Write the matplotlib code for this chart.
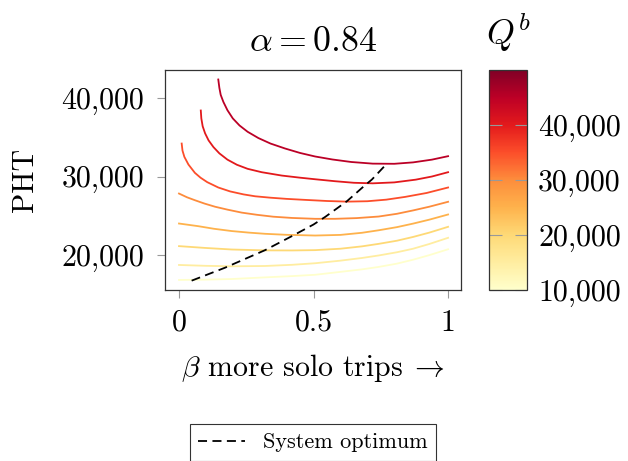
import matplotlib
matplotlib.use("Agg")
import matplotlib.pyplot as plt
from matplotlib.ticker import FuncFormatter
from matplotlib.colors import Normalize
from matplotlib.cm import ScalarMappable

# Q^b value of each curve
Q_VALUES = [10000, 15000, 20000, 25000, 30000, 35000, 40000, 45000]

beta_q10 = [0.0, 0.1, 0.196, 0.32, 0.42, 0.506, 0.6, 0.68, 0.742, 0.81, 0.87, 0.93, 1.0]
pht_q10 = [16820, 16860, 16940, 17150, 17310, 17480, 17850, 18170, 18480, 18900, 19400, 19980, 20730]

beta_q15 = [0.0, 0.1, 0.196, 0.32, 0.42, 0.506, 0.6, 0.68, 0.742, 0.81, 0.87, 0.93, 1.0]
pht_q15 = [18730, 18620, 18560, 18600, 18750, 18950, 19280, 19620, 19940, 20350, 20800, 21400, 22190]

beta_q20 = [0.0, 0.097, 0.196, 0.32, 0.42, 0.506, 0.6, 0.68, 0.742, 0.81, 0.87, 0.93, 1.0]
pht_q20 = [21130, 20900, 20700, 20590, 20580, 20620, 20800, 21100, 21420, 21820, 22300, 22850, 23590]

beta_q25 = [0.0, 0.072, 0.13, 0.196, 0.26, 0.32, 0.40, 0.506, 0.6, 0.68, 0.742, 0.81, 0.87, 0.93, 1.0]
pht_q25 = [24010, 23670, 23340, 23050, 22850, 22700, 22570, 22480, 22560, 22830, 23150, 23550, 24000, 24500, 25160]

beta_q30 = [0.0, 0.03, 0.059, 0.095, 0.134, 0.18, 0.233, 0.29, 0.35, 0.42, 0.506, 0.58, 0.66, 0.742,
            0.81, 0.87, 0.93, 1.0]
pht_q30 = [27830, 27350, 26980, 26550, 26150, 25780, 25400, 25120, 24880, 24720, 24610, 24610, 24700, 24900,
           25250, 25680, 26150, 26780]

beta_q35 = [0.010, 0.013, 0.020, 0.035, 0.059, 0.080, 0.105, 0.146, 0.19, 0.24, 0.283, 0.34, 0.40, 0.47,
            0.55, 0.624, 0.70, 0.77, 0.84, 0.92, 1.0]
pht_q35 = [34200, 33300, 32500, 31530, 30470, 29850, 29280, 28600, 28100, 27720, 27480, 27300, 27150, 27020,
           26880, 26800, 26850, 27050, 27400, 27900, 28600]

beta_q40 = [0.081, 0.083, 0.088, 0.097, 0.110, 0.128, 0.150, 0.180, 0.215, 0.255, 0.307, 0.382, 0.45,
            0.506, 0.58, 0.65, 0.72, 0.80, 0.88, 0.94, 1.0]
pht_q40 = [38410, 37400, 36400, 35500, 34600, 33750, 32950, 32150, 31500, 30980, 30550, 30120, 29850,
           29650, 29400, 29200, 29130, 29250, 29600, 30000, 30550]

beta_q45 = [0.146, 0.150, 0.155, 0.165, 0.180, 0.200, 0.225, 0.255, 0.295, 0.340, 0.394, 0.45, 0.506,
            0.57, 0.64, 0.72, 0.80, 0.87, 0.94, 1.0]
pht_q45 = [42360, 41300, 40400, 39500, 38450, 37400, 36500, 35700, 34900, 34200, 33570, 33000, 32550,
           32170, 31850, 31640, 31620, 31800, 32150, 32590]

# system optimum (dashed)
beta_opt = [0.047, 0.171, 0.32, 0.431, 0.50, 0.544, 0.624, 0.687, 0.717, 0.767, 0.772]
pht_opt = [16730, 18380, 20620, 22610, 23885, 24870, 26850, 28760, 29620, 31440, 31620]

X_TICKS = [0, 0.5, 1]
X_LABELS = ["0", "0.5", "1"]
Y_TICKS = [20000, 30000, 40000]
CBAR_TICKS = [10000, 20000, 30000, 40000]

curves = [(beta_q10, pht_q10), (beta_q15, pht_q15), (beta_q20, pht_q20), (beta_q25, pht_q25),
          (beta_q30, pht_q30), (beta_q35, pht_q35), (beta_q40, pht_q40), (beta_q45, pht_q45)]


def thousands(v, pos):
    return "{:,}".format(int(v))


plt.rcParams["font.family"] = ["cmr10", "DejaVu Serif"]
plt.rcParams["mathtext.fontset"] = "cm"
plt.rcParams["axes.formatter.use_mathtext"] = True
plt.rcParams["font.size"] = 21.5

fig = plt.figure(figsize=(6.28, 4.61), dpi=100)
ax = fig.add_axes([165 / 628, 1 - 290 / 461, 296 / 628, 220 / 461])
cax = fig.add_axes([489 / 628, 1 - 290 / 461, 38 / 628, 220 / 461])

cmap = plt.get_cmap("YlOrRd")
norm = Normalize(10000, 50000)

for q, (b, p) in zip(Q_VALUES, curves):
    ax.plot(b, p, color=cmap(norm(q)), lw=1.3, solid_joinstyle="round")

ax.plot(beta_opt, pht_opt, color="black", lw=1.3, linestyle=(0, (5, 3)), label="System optimum")

ax.set_xlim(-0.052, 1.048)
ax.set_ylim(15540, 43570)
ax.set_xticks(X_TICKS)
ax.set_xticklabels(X_LABELS)
ax.set_yticks(Y_TICKS)
ax.yaxis.set_major_formatter(FuncFormatter(thousands))
ax.tick_params(direction="out", length=6, color="#999999", width=0.8)
ax.tick_params(axis="y", pad=9)
ax.tick_params(axis="x", pad=8)
for s in ax.spines.values():
    s.set_color("#333333")
    s.set_linewidth(0.9)

ax.set_title(r"$\alpha = 0.84$", pad=14)
ax.set_xlabel(r"$\beta$ more solo trips$\;\rightarrow$", labelpad=11)
ax.set_ylabel("PHT", labelpad=16)

sm = ScalarMappable(norm=norm, cmap=cmap)
cb = fig.colorbar(sm, cax=cax)
cb.set_ticks(CBAR_TICKS)
cb.ax.yaxis.set_major_formatter(FuncFormatter(thousands))
cax.tick_params(direction="in", length=9, color="#999999", width=0.8, left=True, right=True, pad=8)
cb.outline.set_edgecolor("#333333")
cb.outline.set_linewidth(0.9)
cax.set_title(r"$Q^b$", pad=18)

leg = fig.legend(loc="upper center", bbox_to_anchor=(313 / 628, 1 - 424 / 461), fontsize=16,
                 frameon=True, fancybox=False, handlelength=2.1, borderpad=0.4, borderaxespad=0)
leg.get_frame().set_edgecolor("black")
leg.get_frame().set_linewidth(0.8)

fig.savefig("out.png", dpi=100)
